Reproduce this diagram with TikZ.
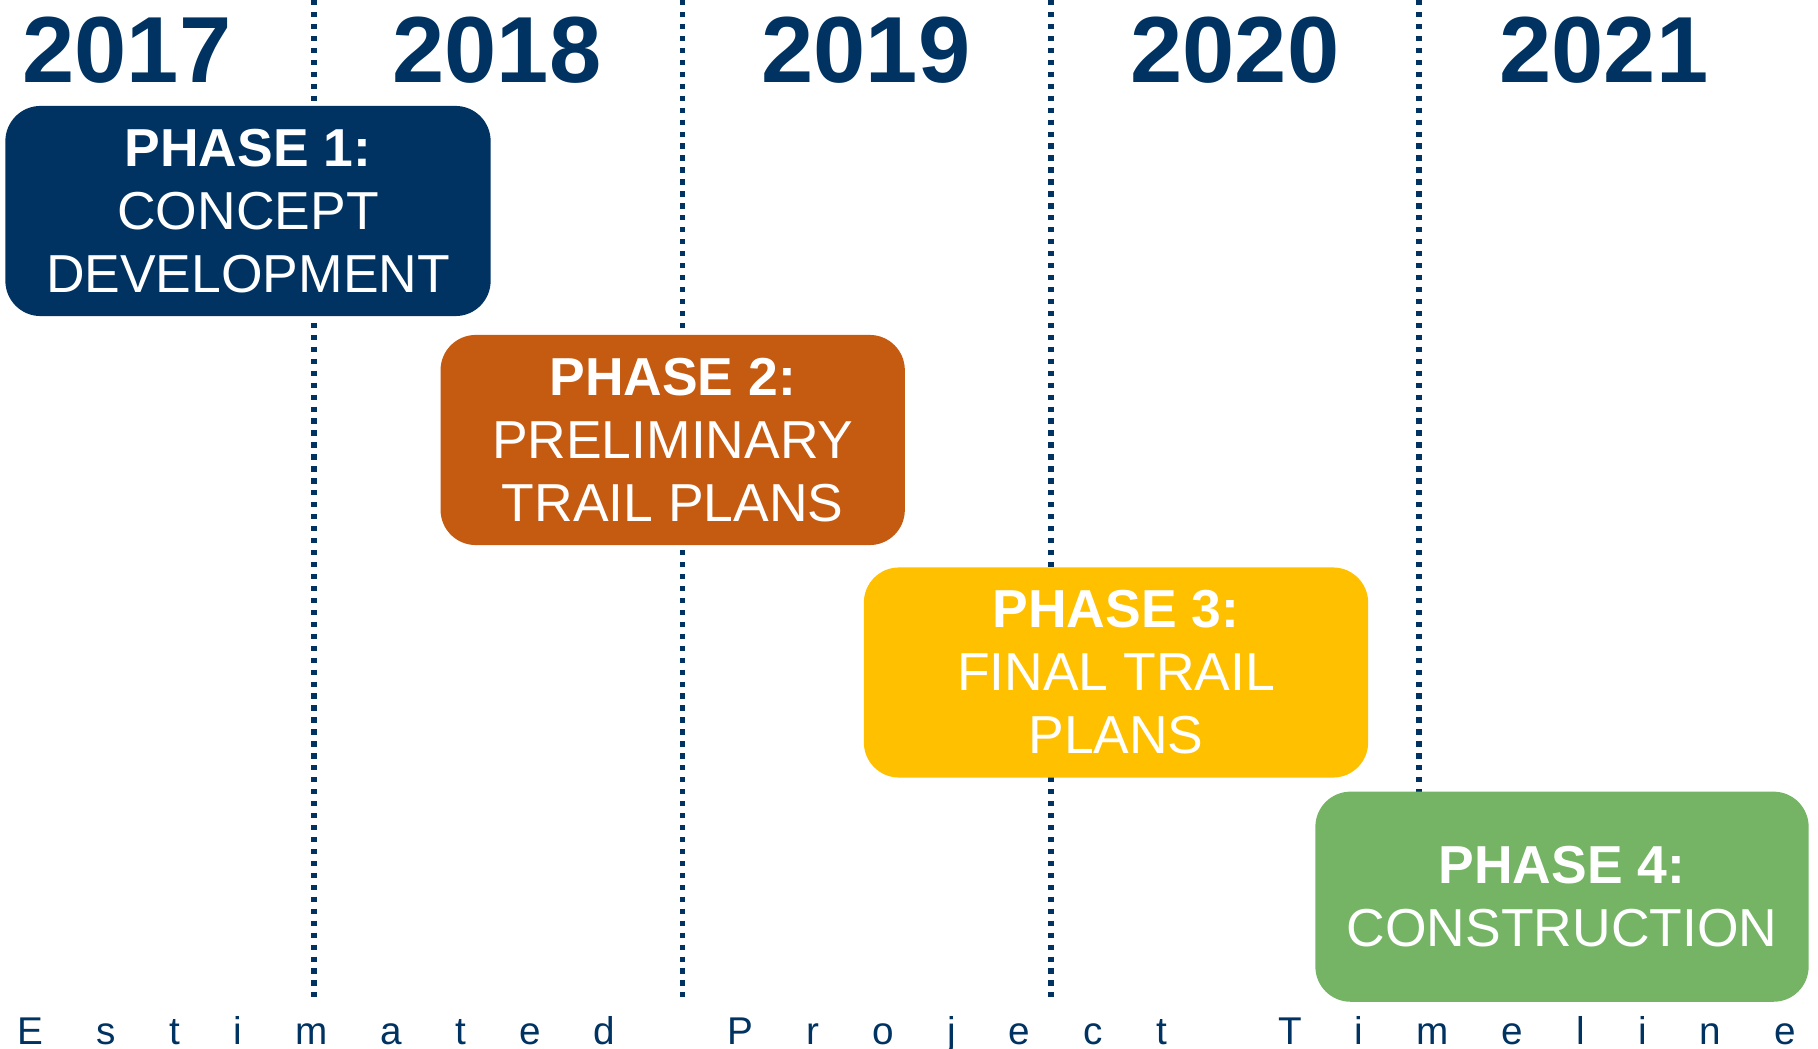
\documentclass[tikz,border=0pt]{standalone}
\usepackage{fontspec}
\setmainfont{Liberation Sans}
\usepackage{tikz}
\definecolor{navy}{HTML}{003361}
\definecolor{rust}{HTML}{C55A11}
\definecolor{gold}{HTML}{FFC000}
\definecolor{leaf}{HTML}{74B464}

\begin{document}
\begin{tikzpicture}[x=0.01cm,y=-0.01cm]
\tikzstyle{year}=[text=navy,anchor=base,font=\fontsize{26.7}{30}\selectfont\bfseries];
\tikzstyle{yearline}=[navy,line width=1.5pt,dash pattern=on 1.5pt off 1.9pt];
\tikzstyle{phase}=[rounded corners=10pt,text=white,align=center,inner sep=0pt,
  minimum height=2.1cm,font=\fontsize{15.2}{17.9}\selectfont];
\useasboundingbox (0,0) rectangle (1818,1049);

% year columns
\draw[yearline] (314,0) -- (314,997);
\draw[yearline] (682.5,0) -- (682.5,997);
\draw[yearline] (1051,0) -- (1051,997);
\draw[yearline] (1419,0) -- (1419,997);

\node[year] (y2017) at (127,83) {2017};
\node[year] (y2018) at (497,83) {2018};
\node[year] (y2019) at (866,83) {2019};
\node[year] (y2020) at (1235,83) {2020};
\node[year] (y2021) at (1604,83) {2021};

% phases
\node[phase,fill=navy,minimum width=4.85cm] (phase1) at (248,211)
  {{\bfseries PHASE 1:}\\CONCEPT\\DEVELOPMENT};
\node[phase,fill=rust,minimum width=4.64cm] (phase2) at (672.7,440)
  {{\bfseries PHASE 2:}\\PRELIMINARY\\TRAIL PLANS};
\node[phase,fill=gold,minimum width=5.04cm] (phase3) at (1116,672.5)
  {{\bfseries PHASE 3:}\\FINAL TRAIL\\PLANS};
\node[phase,fill=leaf,minimum width=4.93cm] (phase4) at (1562,896.7)
  {{\bfseries PHASE 4:}\\CONSTRUCTION};

\node[anchor=base west,inner sep=0pt,text=navy,
  font=\fontsize{11}{13}\selectfont\addfontfeature{LetterSpace=137.6}] (caption) at (17,1044)
  {Estimated\hspace{13.6pt} Project\hspace{13.6pt} Timeline};
\end{tikzpicture}
\end{document}
